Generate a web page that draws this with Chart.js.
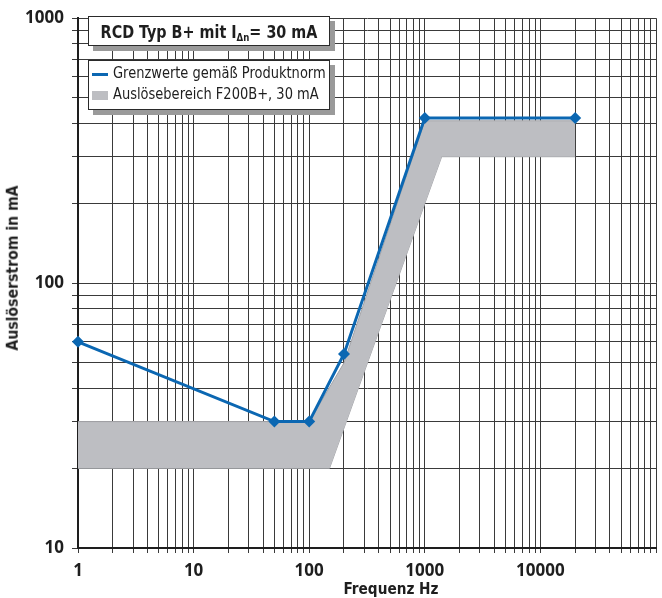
<!DOCTYPE html>
<html>
<head>
<meta charset="utf-8">
<script src="https://cdn.jsdelivr.net/npm/chart.js@4.4.1/dist/chart.umd.min.js"></script>
<style>
  body { margin: 0; background: #fff; }
  #wrap { position: relative; width: 662px; height: 598px; }
  .box {
    position: absolute;
    box-sizing: border-box;
    background: #fff;
    border: 1.5px solid #2a2a2a;
    box-shadow: 5px 5px 0 #9a9a9a;
  }
  #titleBox { left: 88px; top: 16px; width: 242px; height: 30px; }
  #legendBox { left: 88px; top: 60px; width: 242px; height: 50px; }
  .txt {
    position: absolute;
    white-space: nowrap;
    line-height: 1;
    color: #1e1e1e;
    font-family: 'Liberation Sans Narrow', 'DejaVu Sans Condensed', sans-serif;
  }
  .txt sub { font-size: 0.6em; vertical-align: -0.25em; line-height: 0; }
  .sw { position: absolute; }
</style>
</head>
<body>
<div id="wrap">
  <canvas id="chart"></canvas>
  <div class="box" id="titleBox"></div>
  <div class="box" id="legendBox"></div>
  <span class="txt" id="titleText" style="font-weight:bold;font-size:18px">RCD Typ B+ mit I<sub>Δn</sub>= 30 mA</span>
  <span class="txt" id="yTitle" style="font-weight:bold;font-size:16.5px">Auslöserstrom in mA</span>
  <span class="txt" id="xTitle" style="font-weight:bold;font-size:16px">Frequenz Hz</span>
</div>
<script>
// Grenzwerte gemäß Produktnorm (blue line with diamonds)
const limitFreq = [1, 50, 100, 200, 1000, 20000];
const limitCurrent = [60, 30, 30, 54, 420, 420];

// Auslösebereich F200B+ (grey band): upper and lower edge
const bandUpperFreq = [1, 100, 200, 1000, 20000];
const bandUpperCurrent = [30, 30, 50, 410, 410];
const bandLowerFreq = [1, 150, 1400, 20000];
const bandLowerCurrent = [20, 20, 300, 300];

const seriesNames = ['Grenzwerte gemäß Produktnorm', 'Auslösebereich F200B+, 30 mA'];
const seriesColors = ['#0b67b2', '#bdbec2'];

const xTickValues = [1, 10, 100, 1000, 10000];
const xTickLabels = ['1', '10', '100', '1000', '10000'];
const yTickValues = [10, 100, 1000];
const yTickLabels = ['10', '100', '1000'];

// 1..9 per decade for the log grid
function logGrid(from, to) {
    let out = []
    for (let d = from; d < to; d *= 10) {
        for (let m = 1; m <= 9; m++) out.push(m * d)
    }
    out.push(to)
    return out
}
const xGrid = logGrid(1, 100000)
const yGrid = logGrid(10, 1000)

const pts = (xs, ys) => xs.map((x, i) => ({ x: x, y: ys[i] }))

const gridColor = '#3a3a3a'
const tickFont = { family: "'Open Sans', 'DejaVu Sans', sans-serif", size: 17, weight: 'bold' }

const wrap = document.getElementById('wrap')

// squeeze a text element horizontally to a given width (the original uses a condensed face)
function fitText(el, cx, cy, width, rot) {
    let s = width / el.offsetWidth
    el.style.left = cx + 'px'
    el.style.top = cy + 'px'
    el.style.transform = 'translate(-50%,-50%)' + (rot ? ' rotate(' + rot + 'deg)' : '') + ' scaleX(' + s + ')'
    return s
}
fitText(document.getElementById('titleText'), 208.5, 31.5, 217, 0)
fitText(document.getElementById('yTitle'), 13, 267.5, 165, -90)
fitText(document.getElementById('xTitle'), 390.5, 589, 95, 0)

// legend rows built from the series names
let legendScale = null
seriesNames.forEach((name, i) => {
    let t = document.createElement('span')
    t.className = 'txt'
    t.style.fontSize = '15.5px'
    t.textContent = name
    wrap.appendChild(t)
    let cy = i === 0 ? 73.5 : 95
    if (legendScale === null) legendScale = 213 / t.offsetWidth
    t.style.left = '113px'
    t.style.top = cy + 'px'
    t.style.transformOrigin = 'left center'
    t.style.transform = 'translateY(-50%) scaleX(' + legendScale + ')'

    let sw = document.createElement('span')
    sw.className = 'sw'
    sw.style.left = '92px'
    sw.style.width = '16px'
    sw.style.background = seriesColors[i]
    if (i === 0) { sw.style.top = '72.5px'; sw.style.height = '3px' }
    else { sw.style.top = '91px'; sw.style.height = '8.5px' }
    wrap.appendChild(sw)
})

new Chart(document.getElementById('chart'), {
    type: 'line',
    data: {
        datasets: [
            {
                label: seriesNames[0],
                data: pts(limitFreq, limitCurrent),
                borderColor: seriesColors[0],
                backgroundColor: seriesColors[0],
                borderWidth: 3,
                pointStyle: 'rectRot',
                pointRadius: 6,
                pointBorderWidth: 0,
                pointBackgroundColor: seriesColors[0],
                fill: false,
                clip: false,
                order: 0
            },
            {
                label: seriesNames[1],
                data: pts(bandUpperFreq, bandUpperCurrent),
                borderColor: '#a4a5a9',
                backgroundColor: seriesColors[1],
                borderWidth: 1,
                pointRadius: 0,
                fill: '+1',
                order: 1
            },
            {
                label: '',
                data: pts(bandLowerFreq, bandLowerCurrent),
                borderColor: '#a4a5a9',
                borderWidth: 1,
                pointRadius: 0,
                fill: false,
                order: 2
            }
        ]
    },
    options: {
        responsive: true,
        maintainAspectRatio: false,
        animation: false,
        layout: { padding: { top: 18, right: 3, left: 0, bottom: 0 } },
        plugins: {
            legend: { display: false },
            tooltip: { enabled: false }
        },
        scales: {
            x: {
                type: 'logarithmic',
                position: 'bottom',
                min: 1,
                max: 100000,
                afterBuildTicks: s => { s.ticks = xGrid.map(v => ({ value: v })) },
                // fixed height, and no extra room on the right for the (empty) last label
                afterFit: s => { s.height = 50; s.paddingRight = 0 },
                grid: { color: gridColor, lineWidth: 1, tickLength: 5 },
                border: { color: '#1e1e1e', width: 2 },
                ticks: {
                    autoSkip: false,
                    maxRotation: 0,
                    padding: 8,
                    color: '#1e1e1e',
                    font: tickFont,
                    callback: v => {
                        let i = xTickValues.indexOf(v)
                        return i >= 0 ? xTickLabels[i] : ''
                    }
                }
            },
            y: {
                type: 'logarithmic',
                position: 'left',
                min: 10,
                max: 1000,
                afterBuildTicks: s => { s.ticks = yGrid.map(v => ({ value: v })) },
                afterFit: s => { s.width = 78 },
                grid: { color: gridColor, lineWidth: 1, tickLength: 6 },
                border: { color: '#1e1e1e', width: 2 },
                ticks: {
                    autoSkip: false,
                    padding: 8,
                    color: '#1e1e1e',
                    font: tickFont,
                    callback: v => {
                        let i = yTickValues.indexOf(v)
                        return i >= 0 ? yTickLabels[i] : ''
                    }
                }
            }
        }
    }
})
</script>
</body>
</html>
